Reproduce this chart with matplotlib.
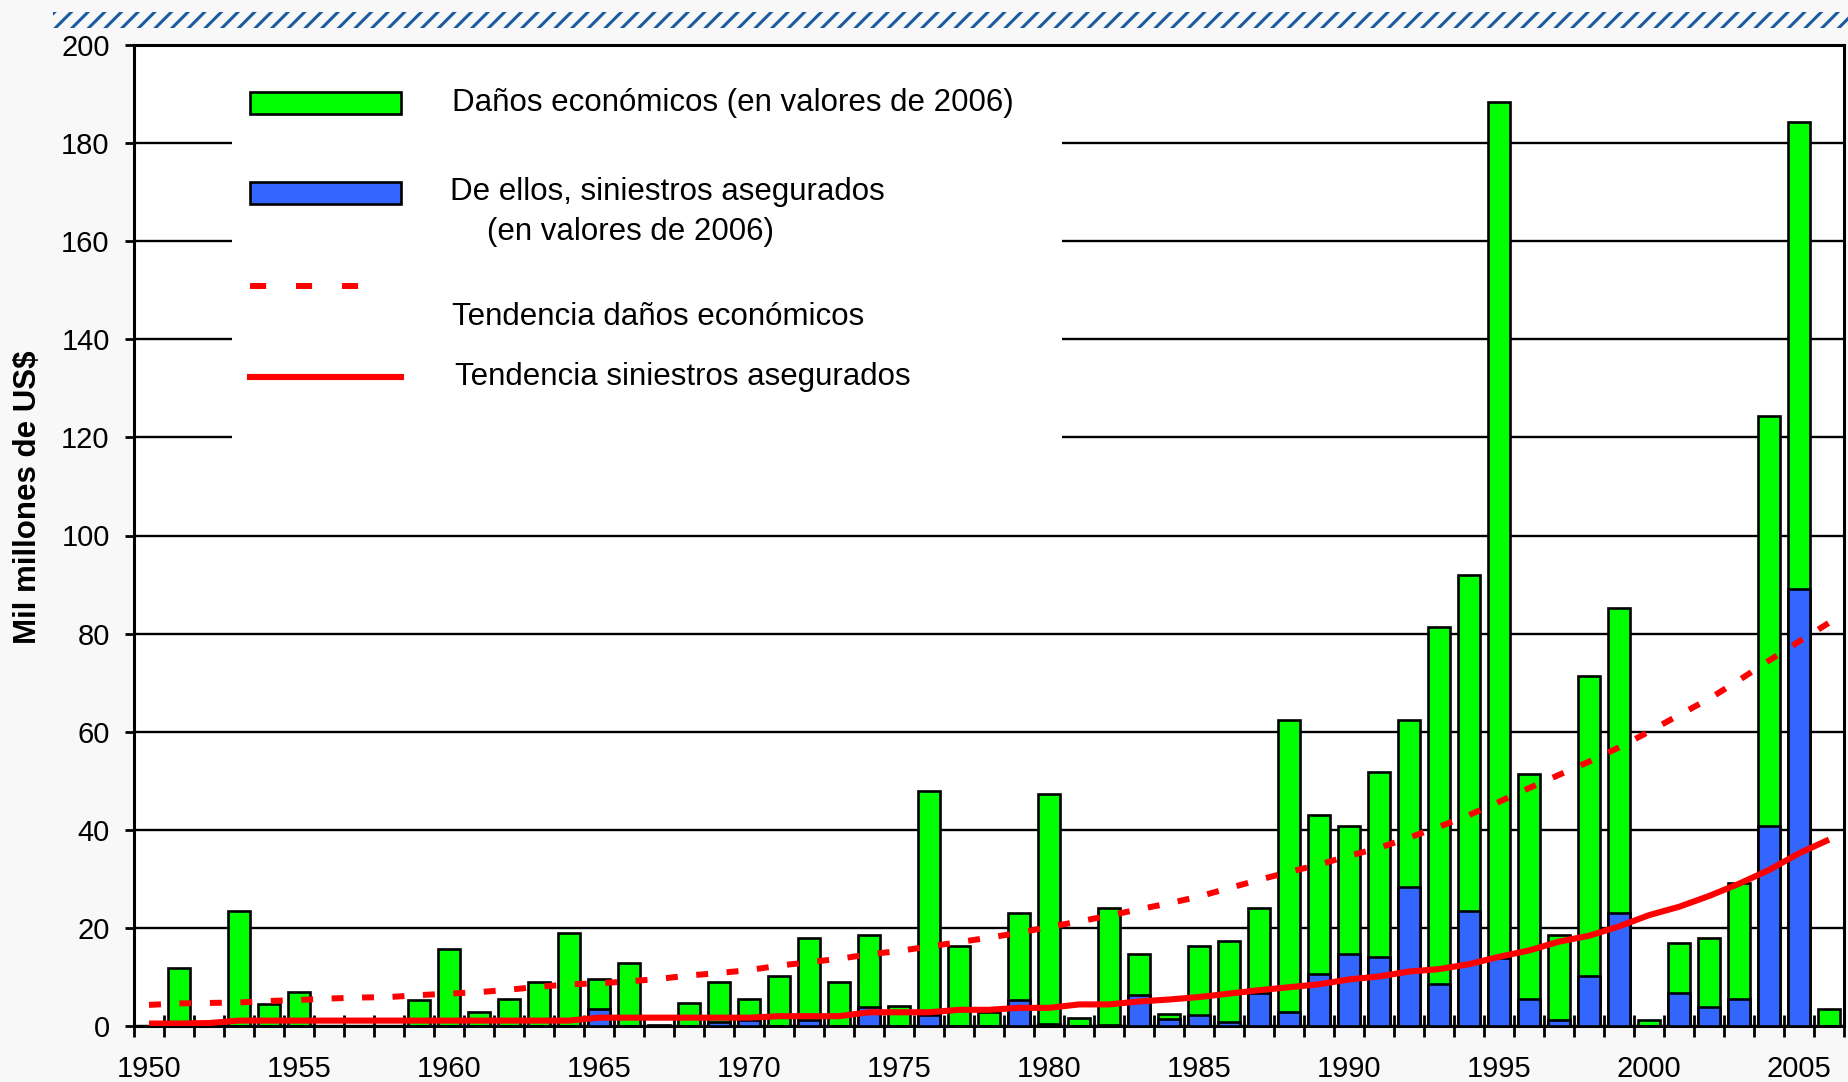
import matplotlib.pyplot as plt
from matplotlib.patches import Rectangle
from matplotlib.lines import Line2D
import numpy as np

plt.rcParams['font.family'] = ['Liberation Sans', 'DejaVu Sans']
plt.rcParams['hatch.linewidth'] = 2.2

years = list(range(1950, 2007))

# economic losses (bn US$, 2006 values)
total = [0, 11.8, 0, 23.4, 4.5, 6.9, 0, 0, 0, 5.2,
         15.7, 2.9, 5.6, 9.0, 19.0, 9.6, 12.9, 0.3, 4.6, 9.0,
         5.6, 10.2, 18.0, 9.0, 18.5, 4.1, 48.0, 16.4, 2.9, 23.0,
         47.4, 1.7, 24.1, 14.7, 2.4, 16.4, 17.3, 24.1, 62.4, 43.0,
         40.8, 51.8, 62.4, 81.4, 91.9, 188.3, 51.3, 18.6, 71.3, 85.3,
         1.2, 16.9, 17.9, 29.1, 124.3, 184.4, 3.5]

# insured losses
insured = [0, 0, 0, 0, 0, 0, 0, 0, 0, 0,
           0, 0, 0, 0, 0, 3.4, 0, 0, 0, 0.8,
           1.2, 0, 1.2, 0, 3.9, 0, 2.2, 0, 0, 5.2,
           0.5, 0, 0.3, 6.3, 1.4, 2.2, 0.8, 6.7, 2.9, 10.7,
           14.6, 14.0, 28.4, 8.5, 23.5, 13.8, 5.6, 1.2, 10.2, 23.0,
           0, 6.8, 3.9, 5.6, 40.8, 89.1, 0]

trend_total = [4.3, 4.6, 4.7, 4.8, 5.1, 5.3, 5.6, 5.8, 5.9, 6.3,
               6.6, 6.9, 7.4, 8.0, 8.5, 8.7, 9.1, 9.6, 10.3, 10.8,
               11.4, 12.3, 13.0, 13.7, 14.6, 15.3, 16.2, 17.1, 18.0, 19.0,
               20.2, 21.3, 22.5, 23.8, 25.0, 26.4, 28.1, 29.8, 31.4, 32.9,
               34.7, 36.3, 38.4, 40.6, 43.0, 45.7, 48.5, 51.2, 53.9, 56.8,
               60.0, 63.4, 66.7, 70.5, 74.5, 78.4, 82.2]

trend_insured = [0.5, 0.5, 0.6, 1.1, 1.1, 1.1, 1.1, 1.1, 1.1, 1.1,
                 1.1, 1.1, 1.1, 1.1, 1.1, 1.7, 1.7, 1.7, 1.7, 1.7,
                 1.7, 2.0, 2.0, 2.0, 2.8, 2.8, 2.8, 3.3, 3.3, 3.7,
                 3.7, 4.4, 4.4, 5.0, 5.4, 5.9, 6.6, 7.3, 7.9, 8.5,
                 9.5, 10.1, 11.1, 11.6, 12.6, 14.1, 15.4, 17.2, 18.4, 20.3,
                 22.6, 24.3, 26.5, 29.0, 31.8, 35.2, 38.0]

label_years = list(range(1950, 2006, 5))

W, H = 1849, 1082
def fx(px):
    return px / W
def fy(py):
    return 1 - py / H

fig = plt.figure(figsize=(W / 100, H / 100), dpi=100, facecolor='#f8f8f8')
ax = fig.add_axes([fx(134), fy(1026), fx(1844) - fx(134), fy(45) - fy(1026)])
ax.set_facecolor('white')

ax.bar(years, total, width=0.73, color='#00ff00', edgecolor='black', linewidth=1.9, zorder=2)
ax.bar(years, insured, width=0.73, color='#3366ff', edgecolor='black', linewidth=1.9, zorder=3)
ax.plot(years, trend_total, color='#ff0000', lw=4.3, dashes=(2, 3.1), dash_capstyle='butt', zorder=4)
ax.plot(years, trend_insured, color='#ff0000', lw=4.4, solid_capstyle='butt', zorder=4)

ax.set_xlim(1949.5, 2006.5)
ax.set_ylim(0, 200)
ax.set_yticks(range(0, 201, 20))
ax.yaxis.grid(True, color='black', lw=1.7)
ax.set_axisbelow(True)

ax.set_xticks(np.arange(1949.5, 2007, 1))
ax.set_xticklabels([])
ax.set_xticks(label_years, minor=True)
ax.set_xticklabels([str(y) for y in label_years], minor=True)
ax.tick_params(axis='x', which='major', direction='inout', length=16, width=2)
ax.tick_params(axis='x', which='minor', length=0, pad=21, labelsize=21)
ax.tick_params(axis='y', direction='out', length=6.5, width=2, pad=11, labelsize=21)
for s in ax.spines.values():
    s.set_linewidth(2.2)
    s.set_color('black')

# legend, drawn by hand on a white panel that hides the grid
ax.add_patch(Rectangle((fx(232), fy(480)), fx(1062) - fx(232), fy(55) - fy(480),
                       transform=fig.transFigure, facecolor='white', edgecolor='none', zorder=1))
ax.add_patch(Rectangle((fx(250), fy(114)), fx(401) - fx(250), fy(92) - fy(114),
                       transform=fig.transFigure, facecolor='#00ff00', edgecolor='black', lw=1.9, zorder=5))
ax.add_patch(Rectangle((fx(250), fy(204)), fx(401) - fx(250), fy(182) - fy(204),
                       transform=fig.transFigure, facecolor='#3366ff', edgecolor='black', lw=1.9, zorder=5))
ax.add_line(Line2D([fx(250), fx(360)], [fy(286), fy(286)], transform=fig.transFigure,
                   color='#ff0000', lw=4.3, dashes=(2.7, 5.0), dash_capstyle='butt', zorder=5))
ax.add_line(Line2D([fx(250), fx(401)], [fy(377), fy(377)], transform=fig.transFigure,
                   color='#ff0000', lw=4.4, zorder=5))
fs = 22.5
fig.text(fx(452), fy(103), 'Daños económicos (en valores de 2006)', fontsize=fs, va='center')
fig.text(fx(450), fy(192), 'De ellos, siniestros asegurados', fontsize=fs, va='center')
fig.text(fx(487), fy(232), '(en valores de 2006)', fontsize=fs, va='center')
fig.text(fx(452), fy(317), 'Tendencia daños económicos', fontsize=fs, va='center')
fig.text(fx(455), fy(377), 'Tendencia siniestros asegurados', fontsize=fs, va='center')

fig.text(fx(28), fy(497), 'Mil millones de US$', fontsize=22.5, fontweight='bold',
         rotation=90, ha='center', va='center')

# hatched band at the top
fig.patches.append(Rectangle((fx(53), fy(28)), fx(1849) - fx(53), fy(12) - fy(28),
                             transform=fig.transFigure, facecolor='none', edgecolor='#1a5c9e',
                             hatch='//', lw=0))

fig.savefig('out.png', dpi=100, facecolor=fig.get_facecolor())
